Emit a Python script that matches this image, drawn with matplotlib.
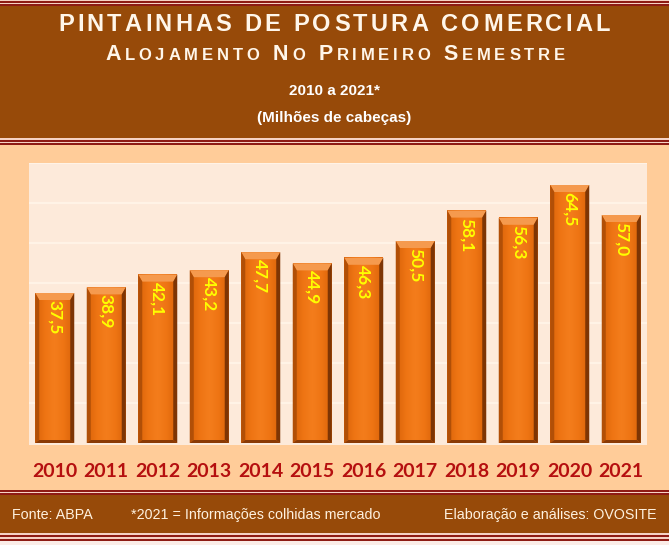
"""
Pintainhas de postura comercial - alojamento no primeiro semestre
"""
import matplotlib
matplotlib.use('Agg')
import matplotlib.pyplot as plt
import numpy as np
from matplotlib.patches import Rectangle, Polygon
from matplotlib.colors import LinearSegmentedColormap
from matplotlib.font_manager import findfont, FontProperties
from matplotlib.ft2font import FT2Font

# dados
anos = ['2010', '2011', '2012', '2013', '2014', '2015',
        '2016', '2017', '2018', '2019', '2020', '2021']
valores = [37.5, 38.9, 42.1, 43.2, 47.7, 44.9, 46.3, 50.5, 58.1, 56.3, 64.5, 57.0]
rotulos = [f'{v:.1f}'.replace('.', ',') for v in valores]

titulo = 'PINTAINHAS DE POSTURA COMERCIAL'
subtitulo = 'ALOJAMENTO NO PRIMEIRO SEMESTRE'
periodo = '2010 a 2021*'
unidade = '(Milhões de cabeças)'
fonte = 'Fonte: ABPA'
nota = '*2021 = Informações colhidas mercado'
autoria = 'Elaboração e análises: OVOSITE'

W, H, DPI = 669, 545, 100
MARROM = '#974A09'
VINHO = '#8E1B14'
ROSA = '#F6D2C4'
PESSEGO = '#FFCC99'
CREME = '#FDEADA'
CLARO = '#FFF3E6'

fig = plt.figure(figsize=(W / DPI, H / DPI), dpi=DPI)
fig.patch.set_facecolor('white')

# fundo em coordenadas de pixel
bg = fig.add_axes([0, 0, 1, 1], zorder=0)
bg.set_xlim(0, W)
bg.set_ylim(H, 0)
bg.axis('off')

faixas = [
    (0, 1, ROSA), (1, 3, VINHO), (3, 4, ROSA), (4, 6, VINHO),
    (6, 138, MARROM),
    (138, 139.5, ROSA), (139.5, 141.5, VINHO), (141.5, 142.5, ROSA), (142.5, 144.5, VINHO),
    (144.5, 490, PESSEGO),
    (490, 492, VINHO), (492, 493, ROSA), (493, 495, VINHO),
    (495, 533, MARROM),
    (533, 535, ROSA), (535, 537, VINHO), (537, 539, ROSA), (539, 541, VINHO),
    (541, 545, '#FBEDE8'),
]
for y0, y1, c in faixas:
    bg.add_patch(Rectangle((0, y0), W, y1 - y0, facecolor=c, edgecolor='none'))

_fonte_bold = findfont(FontProperties(family='Liberation Sans', weight='bold'))


def avanco(ch, size):
    f = FT2Font(_fonte_bold, hinting_factor=1)
    f.set_size(size, DPI)
    return f.load_char(ord(ch)).linearHoriAdvance / 65536


def texto_espacado(pecas, x0, x1, base, cor):
    """desenha letra a letra, com espaçamento ajustado à largura alvo"""
    chars = [(ch, s) for txt, s in pecas for ch in txt]
    adv = [avanco(ch, s) for ch, s in chars]
    track = (x1 - x0 - sum(adv)) / (len(chars) - 1)
    x = x0
    for (ch, s), a in zip(chars, adv):
        if ch != ' ':
            bg.text(x + a / 2, base, ch, fontsize=s, fontweight='bold',
                    family='Liberation Sans', color=cor, ha='center', va='baseline')
        x += a + track


def versalete(frase, grande, pequeno):
    pecas = []
    for i, palavra in enumerate(frase.split(' ')):
        if i:
            pecas.append((' ', grande))
        pecas.append((palavra[0], grande))
        pecas.append((palavra[1:], pequeno))
    return pecas


texto_espacado([(titulo, 17)], 58, 610, 31, '#FFF6EA')
texto_espacado(versalete(subtitulo, 15.5, 12), 105, 565, 60, '#FFF6EA')
bg.text(W / 2, 91, periodo, fontsize=11, fontweight='bold', family='Liberation Sans',
        color='white', ha='center', va='center')
bg.text(W / 2, 118, unidade, fontsize=11, fontweight='bold', family='Liberation Sans',
        color='white', ha='center', va='center')

bg.text(12, 515, fonte, fontsize=10.3, family='Liberation Sans', color='#FFF2E0', va='center')
bg.text(131, 515, nota, fontsize=10.3, family='Liberation Sans', color='#FFF2E0', va='center')
bg.text(657, 515, autoria, fontsize=10.3, family='Liberation Sans', color='#FFF2E0',
        va='center', ha='right')

# área do gráfico
ax_l, ax_r, ax_t, ax_b = 29, 647, 163, 445
ax = fig.add_axes([ax_l / W, 1 - ax_b / H, (ax_r - ax_l) / W, (ax_b - ax_t) / H], zorder=1)
ax.set_facecolor(CREME)
ymin, ymax = -0.5, 70
x = np.arange(len(anos))
ax.set_yticks(np.arange(10, 71, 10))
ax.grid(axis='y', color=CLARO, lw=1.6, zorder=0)
ax.set_axisbelow(True)
for s in ax.spines.values():
    s.set_visible(False)

px_x = (ax_r - ax_l) / len(anos)
px_y = (ax_b - ax_t) / (ymax - ymin)
larg = 39 / px_x
bx, by_top, by_bot = 4 / px_x, 7 / px_y, 3 / px_y

cmap = LinearSegmentedColormap.from_list(
    'laranja', ['#D9630A', '#EE7413', '#F47D1C', '#EE7413', '#D9630A'])
grad = np.linspace(0, 1, 64).reshape(1, -1)

for xi, v, rot in zip(x, valores, rotulos):
    x0, x1 = xi - larg / 2, xi + larg / 2
    ax.imshow(grad, extent=(x0, x1, 0, v), aspect='auto', cmap=cmap,
              zorder=2, interpolation='bicubic')
    ax.add_patch(Polygon([(x0, v), (x1, v), (x1 - bx, v - by_top), (x0 + bx, v - by_top)],
                         closed=True, facecolor='#F59A4E', edgecolor='none', zorder=3))
    ax.add_patch(Polygon([(x0, v), (x0, 0), (x0 + bx, by_bot), (x0 + bx, v - by_top)],
                         closed=True, facecolor='#B14F07', edgecolor='none', zorder=3))
    ax.add_patch(Polygon([(x1, v), (x1, 0), (x1 - bx, by_bot), (x1 - bx, v - by_top)],
                         closed=True, facecolor='#7E3504', edgecolor='none', zorder=3))
    ax.add_patch(Polygon([(x0, 0), (x1, 0), (x1 - bx, by_bot), (x0 + bx, by_bot)],
                         closed=True, facecolor='#8A3A05', edgecolor='none', zorder=3))
    ax.annotate(rot, (xi, v), xytext=(0, -7), textcoords='offset pixels',
                rotation=270, ha='center', va='top', fontsize=12.5, fontweight='bold',
                family='Lato', color='#FFFF00', zorder=4)

ax.set_xlim(-0.5, len(anos) - 0.5)
ax.set_ylim(ymin, ymax)
ax.set_xticks(x)
ax.set_xticklabels(anos, fontsize=14, fontweight='bold', family='Lato', color='#B50F0F')
ax.tick_params(axis='x', length=0, pad=13)
ax.tick_params(axis='y', length=0, labelleft=False)

fig.savefig('out.png', dpi=DPI)
